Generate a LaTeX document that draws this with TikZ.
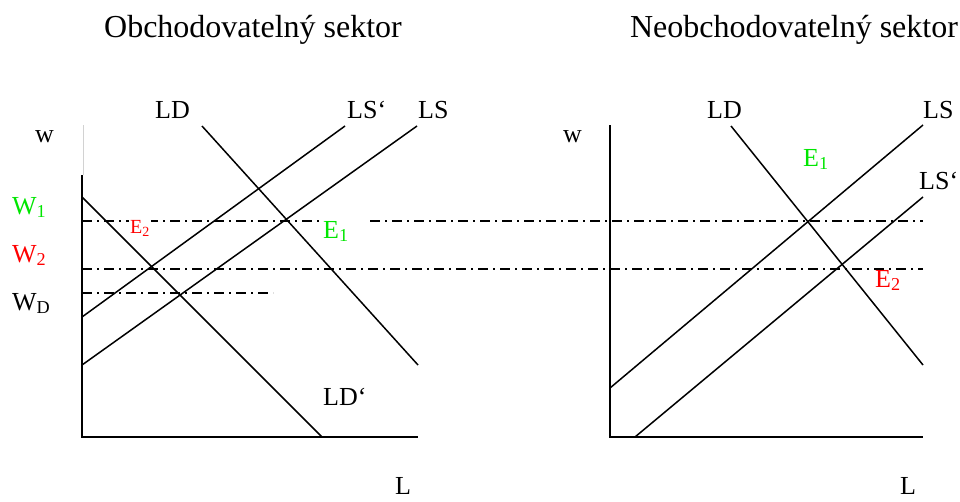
\documentclass[tikz,border=0pt]{standalone}
\usepackage{fontspec}
\setmainfont{Liberation Serif}
\definecolor{brightgreen}{RGB}{0,230,0}
\definecolor{brightred}{RGB}{255,0,0}
\begin{document}
\begin{tikzpicture}[x=1pt,y=-1pt,
  axisline/.style={line width=2pt},
  curve/.style={line width=1.5pt},
  wageline/.style={line width=1.5pt, dash pattern={on 10pt off 5pt on 2pt off 5pt}},
  lbl/.style={anchor=base west, inner sep=0pt, font=\fontsize{26}{30}\selectfont},
  smalllbl/.style={anchor=base west, inner sep=1pt, fill=white, font=\fontsize{20}{24}\selectfont},
  title/.style={anchor=base, inner sep=0pt, font=\fontsize{32}{38}\selectfont}]
\useasboundingbox (0,0) rectangle (960,501);

% titles
\node[title] (t1) at (253,37) {Obchodovatelný sektor};
\node[title] (t2) at (794,37) {Neobchodovatelný sektor};

% ---------- left panel ----------
\coordinate (lO) at (82,437);
\draw[gray!35, line width=0.8pt] (83,125) -- (83,175);
\draw[axisline] (82,175) -- (lO) -- (418,437);

\draw[wageline] (82,221) -- (320,221);
\draw[wageline] (370,221) -- (923,221);
\draw[wageline] (82,269) -- (923,269);
\draw[wageline] (82,293) -- (273,293);

\draw[curve] (202,126) -- (418,365);   % LD
\draw[curve] (82,197) -- (322,437);    % LD'
\draw[curve] (82,317) -- (345,126);    % LS'
\draw[curve] (82,365) -- (417,126);    % LS

\node[lbl] (lLD) at (155,118) {LD};
\node[lbl] (lLSp) at (347,118) {LS\textquoteleft};
\node[lbl] (lLS) at (418,118) {LS};
\node[lbl] (lw) at (35,142) {w};
\node[lbl, text=brightgreen] (W1) at (12,214) {W\textsubscript{1}};
\node[lbl, text=brightred] (W2) at (12,262) {W\textsubscript{2}};
\node[lbl] (WD) at (12,310) {W\textsubscript{D}};
\node[smalllbl, text=brightred] (lE2) at (129,233) {E\textsubscript{2}};
\node[lbl, text=brightgreen] (lE1) at (323,238) {E\textsubscript{1}};
\node[lbl] (lLDp) at (323,405) {LD\textquoteleft};
\node[lbl] (lL) at (395,494) {L};

% ---------- right panel ----------
\coordinate (rO) at (610,437);
\draw[axisline] (610,125) -- (rO) -- (923,437);
\draw[curve] (731,126) -- (923,365);   % LD
\draw[curve] (610,388) -- (923,125);   % LS
\draw[curve] (635,437) -- (923,197);   % LS'

\node[lbl] (rLD) at (707,118) {LD};
\node[lbl] (rLS) at (923,118) {LS};
\node[lbl] (rLSp) at (919,189) {LS\textquoteleft};
\node[lbl] (rw) at (563,142) {w};
\node[lbl, text=brightgreen] (rE1) at (803,166) {E\textsubscript{1}};
\node[lbl, text=brightred] (rE2) at (875,287) {E\textsubscript{2}};
\node[lbl] (rL) at (900,494) {L};
\end{tikzpicture}
\end{document}
